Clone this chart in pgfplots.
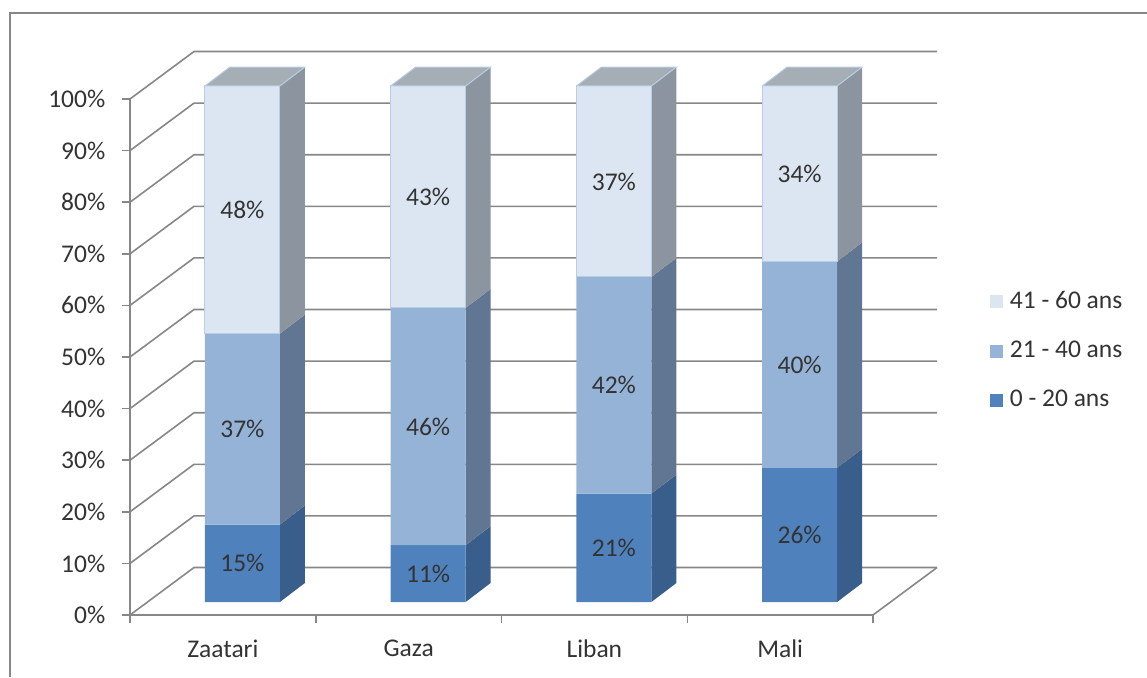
\documentclass[border=0pt]{standalone}
\usepackage{fontspec}
\setmainfont{Carlito}
\usepackage{pgfplots}
\usepackage{pgfplotstable}
\pgfplotsset{compat=1.18}
\definecolor{cA}{HTML}{4F81BD}
\definecolor{cAs}{HTML}{3A5E8B}
\definecolor{cB}{HTML}{95B3D7}
\definecolor{cBs}{HTML}{607692}
\definecolor{cC}{HTML}{DCE6F2}
\definecolor{cCs}{HTML}{8C959F}
\definecolor{cTop}{HTML}{A5ADB5}
\definecolor{cEdge}{HTML}{B9CDE5}
\definecolor{gridc}{HTML}{878787}
\definecolor{txt}{HTML}{333333}

\pgfplotstableread{
idx a b c
0 15 37 48
1 11 46 43
2 21 42 37
3 26 40 34
}\agedata

\def\bw{0.4038}
\def\fdx{0.105}
\def\fdy{2.52}
\def\ddx{0.1346}
\def\ddy{3.68}
\def\Dx{0.3445}
\def\Dy{9.2}

\newcommand\seg[6]{%
  \pgfmathsetmacro\xa{#1}%
  \pgfmathsetmacro\xb{#1+\bw}%
  \pgfmathsetmacro\xc{#1+\bw+\ddx}%
  \pgfmathsetmacro\ya{#2+\fdy}%
  \pgfmathsetmacro\yb{#3+\fdy}%
  \pgfmathsetmacro\yc{#2+\fdy+\ddy}%
  \pgfmathsetmacro\yd{#3+\fdy+\ddy}%
  \edef\cmd{%
   \noexpand\addplot[forget plot, fill=#5, draw=none] coordinates {(\xb,\ya) (\xc,\yc) (\xc,\yd) (\xb,\yb)};
   \noexpand\addplot[forget plot, fill=#4, draw=#6, line width=1pt] coordinates {(\xa,\ya) (\xb,\ya) (\xb,\yb) (\xa,\yb) (\xa,\ya)};
  }\cmd
}
\newcommand\topface[2]{%
  \pgfmathsetmacro\xa{#1}%
  \pgfmathsetmacro\xb{#1+\bw}%
  \pgfmathsetmacro\xc{#1+\bw+\ddx}%
  \pgfmathsetmacro\xd{#1+\ddx}%
  \pgfmathsetmacro\ya{#2+\fdy}%
  \pgfmathsetmacro\yb{#2+\fdy+\ddy}%
  \edef\cmd{%
   \noexpand\addplot[forget plot, fill=cTop, draw=cEdge, line width=1pt] coordinates {(\xa,\ya) (\xb,\ya) (\xc,\yb) (\xd,\yb) (\xa,\ya)};
  }\cmd
}

\begin{document}
\fontsize{25.5pt}{30pt}\selectfont
\begin{tikzpicture}
\path[use as bounding box] (0,0) rectangle (1147pt,-677pt);
\draw[gridc, line width=1.6pt] (10pt,-677pt) -- (10pt,-13pt) -- (1147pt,-13pt);
\begin{axis}[
  at={(130pt,-615pt)}, anchor=south west,
  scale only axis, width=743pt, height=516pt,
  xmin=0, xmax=4, ymin=0, ymax=100,
  clip=false,
  axis line style={draw=none},
  tick pos=left,
  tick align=outside,
  major tick length=8pt,
  tick style={gridc, line width=1.5pt},
  xtick={0,1,2,3,4},
  x tick label as interval,
  xticklabels={Zaatari,Gaza,Liban,Mali},
  ytick={0,10,...,100},
  yticklabels={0\%,10\%,20\%,30\%,40\%,50\%,60\%,70\%,80\%,90\%,100\%},
  every tick label/.append style={text=txt},
  yticklabel style={xshift=-8pt},
  xticklabel style={yshift=-8pt},
  legend style={at={(1.153,0.512)}, anchor=west, draw=none, fill=none, text=txt,
    row sep=25pt, /tikz/every odd column/.append style={column sep=5pt}},
  legend cell align=left,
  legend image code/.code={\fill[#1, draw=none] (0pt,-6.5pt) rectangle (13pt,6.5pt);},
  /pgf/number format/assume math mode=true,
]
% back wall / side wall grid lines
\pgfplotsforeachungrouped \k in {0,10,...,100}{%
  \pgfmathsetmacro\kb{\k+\Dy}%
  \pgfmathsetmacro\xe{4+\Dx}%
  \edef\cmd{\noexpand\addplot[forget plot, gridc, line width=1.6pt] coordinates {(0,\k) (\Dx,\kb) (\xe,\kb)};}\cmd
}
\addplot[forget plot, gridc, line width=1.6pt] coordinates {(4,0) (4.3445,9.2)};
\addplot[forget plot, gridc, line width=1.6pt] coordinates {(0,100) (0,0) (4,0)};
% bars
\pgfplotsforeachungrouped \i in {0,1,2,3}{%
  \pgfplotstablegetelem{\i}{a}\of\agedata \let\va\pgfplotsretval
  \pgfplotstablegetelem{\i}{b}\of\agedata \let\vb\pgfplotsretval
  \pgfplotstablegetelem{\i}{c}\of\agedata \let\vc\pgfplotsretval
  \pgfmathsetmacro\xl{\i+0.5-\bw/2+\fdx}%
  \pgfmathsetmacro\sa{\va}%
  \pgfmathsetmacro\sb{\va+\vb}%
  \pgfmathsetmacro\sc{\va+\vb+\vc}%
  \seg{\xl}{0}{\sa}{cA}{cAs}{none}%
  \seg{\xl}{\sa}{\sb}{cB}{cBs}{none}%
  \seg{\xl}{\sb}{\sc}{cC}{cCs}{cEdge}%
  \topface{\xl}{\sc}%
}
% data labels
\addplot[forget plot, draw=none, mark=none, point meta=explicit,
  nodes near coords={\pgfmathprintnumber{\pgfplotspointmeta}\%},
  nodes near coords align=center,
  every node near coord/.append style={text=txt}]
  table[x expr=\thisrow{idx}+0.5+\fdx, y expr=\thisrow{a}/2+\fdy, meta=a]{\agedata};
\addplot[forget plot, draw=none, mark=none, point meta=explicit,
  nodes near coords={\pgfmathprintnumber{\pgfplotspointmeta}\%},
  nodes near coords align=center,
  every node near coord/.append style={text=txt}]
  table[x expr=\thisrow{idx}+0.5+\fdx, y expr=\thisrow{a}+\thisrow{b}/2+\fdy, meta=b]{\agedata};
\addplot[forget plot, draw=none, mark=none, point meta=explicit,
  nodes near coords={\pgfmathprintnumber{\pgfplotspointmeta}\%},
  nodes near coords align=center,
  every node near coord/.append style={text=txt}]
  table[x expr=\thisrow{idx}+0.5+\fdx, y expr=\thisrow{a}+\thisrow{b}+\thisrow{c}/2+\fdy, meta=c]{\agedata};
% legend
\addlegendimage{fill=cC}
\addlegendentry{41 - 60 ans}
\addlegendimage{fill=cB}
\addlegendentry{21 - 40 ans}
\addlegendimage{fill=cA}
\addlegendentry{0 - 20 ans}
\end{axis}
\end{tikzpicture}
\end{document}
